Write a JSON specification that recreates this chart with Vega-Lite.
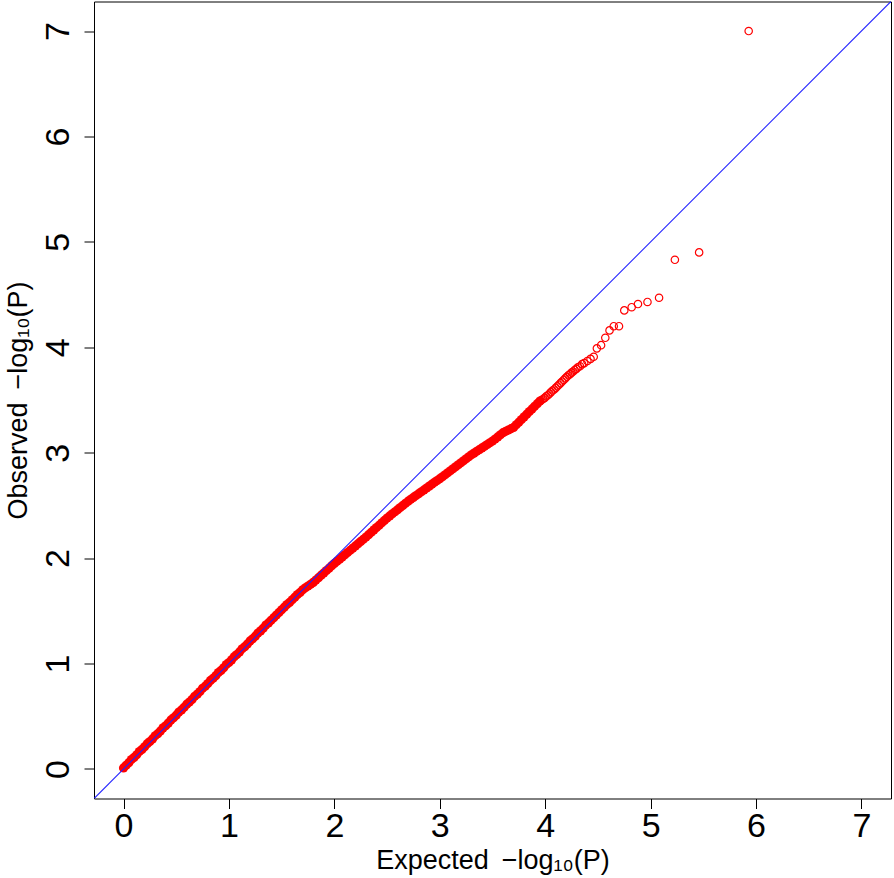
{
  "$schema": "https://vega.github.io/schema/vega-lite/v6.json",
  "width": 797,
  "height": 797,
  "autosize": "none",
  "padding": {"left": 94, "top": 1.5, "right": 3, "bottom": 79.5},
  "background": "white",
  "config": {
    "view": {"stroke": "black", "strokeWidth": 1},
    "axis": {
      "grid": false,
      "domain": false,
      "tickColor": "black",
      "tickSize": 10,
      "tickWidth": 1,
      "labelFont": "Liberation Sans",
      "labelFontSize": 34,
      "labelColor": "black",
      "titleFont": "Liberation Sans",
      "titleFontSize": 27,
      "titleFontWeight": "normal",
      "titleColor": "black"
    }
  },
  "datasets": {
    "qq": [
      {"x":0.000,"y":0.010},{"x":0.025,"y":0.035},{"x":0.050,"y":0.060},{"x":0.075,"y":0.090},{"x":0.100,"y":0.110},
      {"x":0.125,"y":0.135},{"x":0.150,"y":0.165},{"x":0.175,"y":0.185},{"x":0.200,"y":0.210},{"x":0.225,"y":0.240},
      {"x":0.250,"y":0.260},{"x":0.275,"y":0.285},{"x":0.300,"y":0.315},{"x":0.325,"y":0.335},{"x":0.350,"y":0.360},
      {"x":0.375,"y":0.390},{"x":0.400,"y":0.410},{"x":0.425,"y":0.435},{"x":0.450,"y":0.465},{"x":0.475,"y":0.485},
      {"x":0.500,"y":0.510},{"x":0.525,"y":0.540},{"x":0.550,"y":0.560},{"x":0.575,"y":0.585},{"x":0.600,"y":0.615},
      {"x":0.625,"y":0.635},{"x":0.650,"y":0.660},{"x":0.675,"y":0.690},{"x":0.700,"y":0.710},{"x":0.725,"y":0.735},
      {"x":0.750,"y":0.765},{"x":0.775,"y":0.785},{"x":0.800,"y":0.810},{"x":0.825,"y":0.840},{"x":0.850,"y":0.860},
      {"x":0.875,"y":0.885},{"x":0.900,"y":0.915},{"x":0.925,"y":0.935},{"x":0.950,"y":0.960},{"x":0.975,"y":0.990},
      {"x":1.000,"y":1.010},{"x":1.025,"y":1.035},{"x":1.050,"y":1.065},{"x":1.075,"y":1.085},{"x":1.100,"y":1.110},
      {"x":1.125,"y":1.140},{"x":1.150,"y":1.160},{"x":1.175,"y":1.185},{"x":1.200,"y":1.215},{"x":1.225,"y":1.235},
      {"x":1.250,"y":1.260},{"x":1.275,"y":1.290},{"x":1.300,"y":1.310},{"x":1.325,"y":1.335},{"x":1.350,"y":1.365},
      {"x":1.375,"y":1.385},{"x":1.400,"y":1.410},{"x":1.425,"y":1.435},{"x":1.450,"y":1.460},{"x":1.475,"y":1.485},
      {"x":1.500,"y":1.510},{"x":1.525,"y":1.535},{"x":1.550,"y":1.560},{"x":1.575,"y":1.580},{"x":1.600,"y":1.605},
      {"x":1.625,"y":1.630},{"x":1.650,"y":1.655},{"x":1.675,"y":1.675},{"x":1.700,"y":1.700},{"x":1.725,"y":1.718},
      {"x":1.750,"y":1.735},{"x":1.775,"y":1.752},{"x":1.800,"y":1.770},{"x":1.825,"y":1.792},{"x":1.850,"y":1.815},
      {"x":1.875,"y":1.838},{"x":1.900,"y":1.860},{"x":1.925,"y":1.882},{"x":1.950,"y":1.905},{"x":1.975,"y":1.928},
      {"x":2.000,"y":1.950},{"x":2.025,"y":1.970},{"x":2.050,"y":1.990},{"x":2.075,"y":2.011},{"x":2.100,"y":2.032},
      {"x":2.125,"y":2.053},{"x":2.150,"y":2.074},{"x":2.175,"y":2.095},{"x":2.200,"y":2.116},{"x":2.225,"y":2.137},
      {"x":2.250,"y":2.158},{"x":2.275,"y":2.179},{"x":2.300,"y":2.200},{"x":2.325,"y":2.222},{"x":2.350,"y":2.245},
      {"x":2.375,"y":2.268},{"x":2.400,"y":2.290},{"x":2.425,"y":2.312},{"x":2.450,"y":2.335},{"x":2.475,"y":2.358},
      {"x":2.500,"y":2.380},{"x":2.525,"y":2.400},{"x":2.550,"y":2.420},{"x":2.575,"y":2.440},{"x":2.600,"y":2.460},
      {"x":2.625,"y":2.480},{"x":2.650,"y":2.500},{"x":2.675,"y":2.520},{"x":2.700,"y":2.540},{"x":2.725,"y":2.558},
      {"x":2.750,"y":2.576},{"x":2.775,"y":2.594},{"x":2.800,"y":2.611},{"x":2.825,"y":2.629},{"x":2.850,"y":2.647},
      {"x":2.875,"y":2.665},{"x":2.900,"y":2.683},{"x":2.925,"y":2.701},{"x":2.950,"y":2.719},{"x":2.975,"y":2.736},
      {"x":3.000,"y":2.754},{"x":3.025,"y":2.772},{"x":3.050,"y":2.790},{"x":3.075,"y":2.809},{"x":3.100,"y":2.828},
      {"x":3.125,"y":2.847},{"x":3.150,"y":2.866},{"x":3.175,"y":2.885},{"x":3.200,"y":2.904},{"x":3.225,"y":2.923},
      {"x":3.250,"y":2.942},{"x":3.275,"y":2.961},{"x":3.300,"y":2.980},{"x":3.325,"y":2.996},{"x":3.350,"y":3.013},
      {"x":3.375,"y":3.029},{"x":3.400,"y":3.045},{"x":3.425,"y":3.061},{"x":3.450,"y":3.078},{"x":3.475,"y":3.094},
      {"x":3.500,"y":3.110},{"x":3.525,"y":3.130},{"x":3.550,"y":3.150},{"x":3.575,"y":3.170},{"x":3.600,"y":3.190},
      {"x":3.625,"y":3.203},{"x":3.650,"y":3.215},{"x":3.675,"y":3.228},{"x":3.700,"y":3.240},{"x":3.725,"y":3.265},
      {"x":3.750,"y":3.290},{"x":3.775,"y":3.315},{"x":3.800,"y":3.340},{"x":3.825,"y":3.365},{"x":3.850,"y":3.390},
      {"x":3.875,"y":3.415},{"x":3.900,"y":3.440},{"x":3.925,"y":3.465},{"x":3.950,"y":3.490},
      {"x":3.965,"y":3.500},{"x":3.980,"y":3.510},{"x":3.995,"y":3.520},{"x":4.010,"y":3.535},{"x":4.025,"y":3.545},
      {"x":4.040,"y":3.560},{"x":4.055,"y":3.575},{"x":4.070,"y":3.590},{"x":4.085,"y":3.600},{"x":4.100,"y":3.615},
      {"x":4.115,"y":3.630},{"x":4.130,"y":3.645},{"x":4.145,"y":3.660},{"x":4.160,"y":3.675},{"x":4.175,"y":3.690},
      {"x":4.190,"y":3.705},{"x":4.205,"y":3.720},{"x":4.220,"y":3.735},{"x":4.235,"y":3.745},{"x":4.250,"y":3.760},
      {"x":4.265,"y":3.770},{"x":4.280,"y":3.785},{"x":4.295,"y":3.795},{"x":4.310,"y":3.810},{"x":4.330,"y":3.820},
      {"x":4.350,"y":3.840},{"x":4.370,"y":3.850},{"x":4.400,"y":3.870},{"x":4.430,"y":3.890},{"x":4.460,"y":3.910},
      {"x":4.490,"y":3.990},{"x":4.530,"y":4.020},{"x":4.570,"y":4.090},{"x":4.610,"y":4.160},{"x":4.650,"y":4.200},
      {"x":4.700,"y":4.200},{"x":4.750,"y":4.350},{"x":4.820,"y":4.380},{"x":4.880,"y":4.410},{"x":4.970,"y":4.430},
      {"x":5.080,"y":4.470},{"x":5.230,"y":4.830},{"x":5.460,"y":4.900},{"x":5.930,"y":7.000}
    ],
    "diag": [{"x": -0.28, "y": -0.28}, {"x": 7.28, "y": 7.28}]
  },
  "encoding": {
    "x": {
      "field": "x", "type": "quantitative",
      "scale": {"domain": [-0.28, 7.28], "nice": false, "zero": false},
      "axis": {"values": [0,1,2,3,4,5,6,7], "labelPadding": 1, "title": "Expected \u2009\u2212log\u2081\u2080(P)", "titlePadding": 4}
    },
    "y": {
      "field": "y", "type": "quantitative",
      "scale": {"domain": [-0.28, 7.28], "nice": false, "zero": false},
      "axis": {"values": [0,1,2,3,4,5,6,7], "labelAngle": -90, "labelAlign": "center", "labelBaseline": "alphabetic", "labelPadding": 16, "title": "Observed \u2009\u2212log\u2081\u2080(P)", "titlePadding": 9}
    }
  },
  "layer": [
    {
      "data": {"name": "qq"},
      "transform": [{"filter": "datum.x <= 3.951"}],
      "mark": {"type": "circle", "color": "#FF0000", "opacity": 1, "size": 85}
    },
    {
      "data": {"name": "qq"},
      "transform": [{"filter": "datum.x > 3.951"}],
      "mark": {"type": "point", "shape": "circle", "filled": false, "stroke": "#FF0000", "strokeWidth": 1.2, "opacity": 1, "size": 55}
    },
    {
      "data": {"name": "diag"},
      "mark": {"type": "line", "color": "#2222FF", "strokeWidth": 1.1, "clip": true},
      "encoding": {}
    }
  ]
}
